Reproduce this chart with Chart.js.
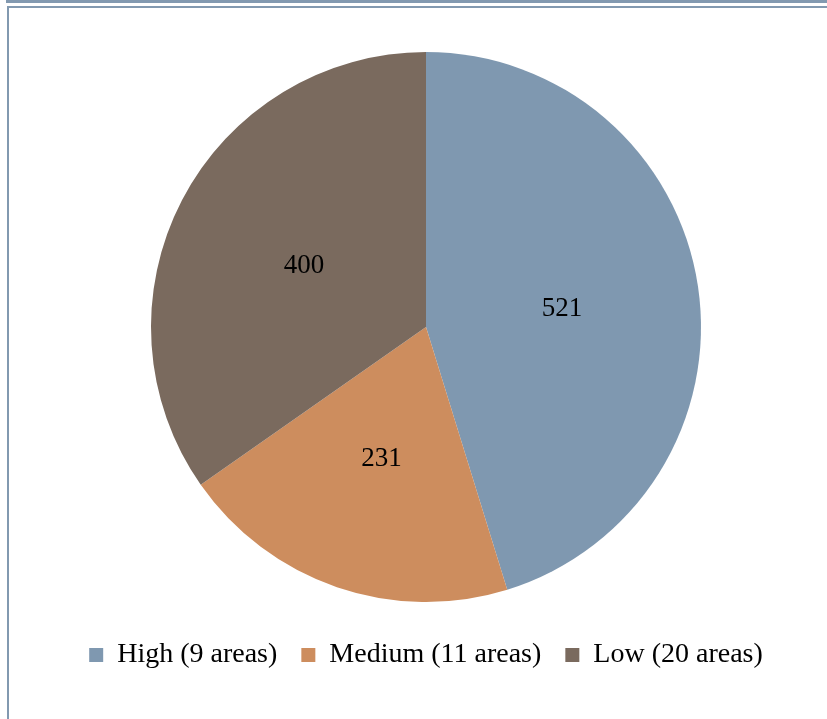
<!DOCTYPE html>
<html lang="en">
<head>
    <meta charset="UTF-8">
    <title>pie</title>
    <style>
        body { margin: 0; background: #fff; }
        #frame { position: absolute; left: 0; top: 0; width: 827px; height: 719px; }
        .bar-top { position: absolute; left: 6px; top: 0; width: 821px; height: 3px; background: #8299b0; }
        .line-top { position: absolute; left: 7px; top: 6px; width: 820px; height: 2px; background: #8299b0; }
        .line-left { position: absolute; left: 7px; top: 6px; width: 2px; height: 713px; background: #8299b0; }
        #chartBox { position: absolute; left: 0; top: 0; width: 827px; height: 719px; }
    </style>
</head>
<body>
    <div id="frame">
        <div class="bar-top"></div>
        <div class="line-top"></div>
        <div class="line-left"></div>
        <div id="chartBox"><canvas id="myChart"></canvas></div>
    </div>

<script src="https://cdn.jsdelivr.net/npm/chart.js@4/dist/chart.umd.min.js"></script>
<script>
    var categories = ['High (9 areas)', 'Medium (11 areas)', 'Low (20 areas)'];
    var values = [521, 231, 400];
    var colors = ['#7f98b0', '#cd8d5e', '#7a6a5e'];

    var fontFamily = '"Liberation Serif", "DejaVu Serif", serif';

    // draws the value in the middle of each slice
    var valueLabels = {
        id: 'valueLabels',
        afterDatasetsDraw: function (chart) {
            var ctx = chart.ctx;
            var meta = chart.getDatasetMeta(0);
            ctx.save();
            ctx.font = '27px ' + fontFamily;
            ctx.fillStyle = '#000';
            ctx.textAlign = 'center';
            ctx.textBaseline = 'middle';
            meta.data.forEach(function (arc, i) {
                var pos = arc.tooltipPosition();
                ctx.fillText(String(values[i]), pos.x, pos.y + 2);
            });
            ctx.restore();
        }
    };

    var ctx = document.getElementById('myChart').getContext('2d');
    var pieChart = new Chart(ctx, {
        type: 'pie',
        data: {
            labels: categories,
            datasets: [{
                data: values,
                backgroundColor: colors,
                borderWidth: 0,
                radius: 275
            }]
        },
        options: {
            responsive: true,
            maintainAspectRatio: false,
            animation: false,
            layout: { padding: { top: 37, left: 25, right: 0, bottom: 40 } },
            plugins: {
                tooltip: { enabled: false },
                legend: {
                    position: 'bottom',
                    labels: {
                        boxWidth: 14,
                        boxHeight: 14,
                        padding: 24,
                        color: '#000',
                        font: { family: fontFamily, size: 28 }
                    }
                }
            }
        },
        plugins: [valueLabels]
    });
</script>
</body>
</html>
